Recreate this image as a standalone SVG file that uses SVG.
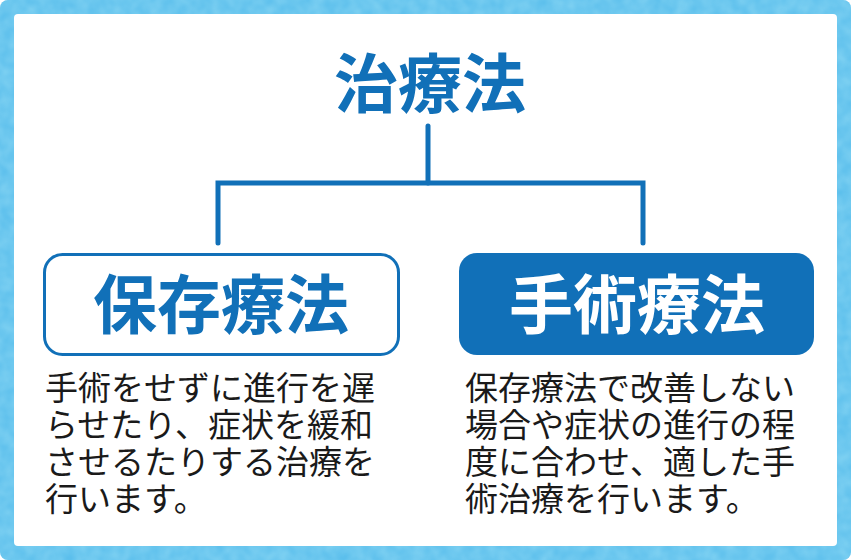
<svg xmlns="http://www.w3.org/2000/svg" width="851" height="560" viewBox="0 0 851 560">
<style>
.ttl{font-family:"Noto Sans CJK JP","Noto Sans CJK SC",sans-serif;font-weight:700;font-size:64px;text-anchor:middle}
.body{font-family:"Noto Sans CJK JP","Noto Sans CJK SC",sans-serif;font-weight:400;font-size:33px;fill:#1a1a1a}
.conn{fill:none;stroke:#1170b8;stroke-width:5;stroke-linecap:round;stroke-linejoin:miter}
</style>
<defs>
<filter id="tex" x="0" y="0" width="100%" height="100%">
<feTurbulence type="fractalNoise" baseFrequency="0.08" numOctaves="2" seed="3" result="n"/>
<feColorMatrix in="n" type="matrix" values="0 0 0 0 0.30  0 0 0 0 0.72  0 0 0 0 0.92  0 0 0 -1.2 1.1" result="c"/>
<feComposite in="c" in2="SourceGraphic" operator="in"/>
</filter>
</defs>
<g id="frame">
<rect x="0" y="0" width="851" height="560" rx="8" fill="#5cbfec"/>
<rect x="0" y="0" width="851" height="560" rx="8" fill="#3fb0e6" filter="url(#tex)" opacity="0.6"/>
<rect x="14" y="14" width="823" height="532" rx="4" fill="#ffffff"/>
</g>
<g id="title">
<text class="ttl" x="430" y="107" fill="#1170b8">治療法</text>
</g>
<g id="connectors">
<path class="conn" d="M428 126 V183"/>
<path class="conn" d="M218 243 V183 H643 V243"/>
</g>
<g id="conservative">
<rect x="44.5" y="254.5" width="354" height="100" rx="18" fill="#ffffff" stroke="#1170b8" stroke-width="3"/>
<text class="ttl" x="221" y="328" fill="#1170b8">保存療法</text>
</g>
<g id="surgical">
<rect x="459" y="253" width="355" height="102" rx="18" fill="#1170b8"/>
<text class="ttl" x="637" y="328" fill="#ffffff">手術療法</text>
</g>
<g id="desc-left">
<text class="body" x="45" y="400"><tspan x="45" y="400">手術をせずに進行を遅</tspan><tspan x="45" y="437">らせたり、症状を緩和</tspan><tspan x="45" y="474">させるたりする治療を</tspan><tspan x="45" y="511">行います。</tspan></text>
</g>
<g id="desc-right">
<text class="body" x="465" y="400"><tspan x="465" y="400">保存療法で改善しない</tspan><tspan x="465" y="437">場合や症状の進行の程</tspan><tspan x="465" y="474">度に合わせ、適した手</tspan><tspan x="465" y="511">術治療を行います。</tspan></text>
</g>
</svg>
